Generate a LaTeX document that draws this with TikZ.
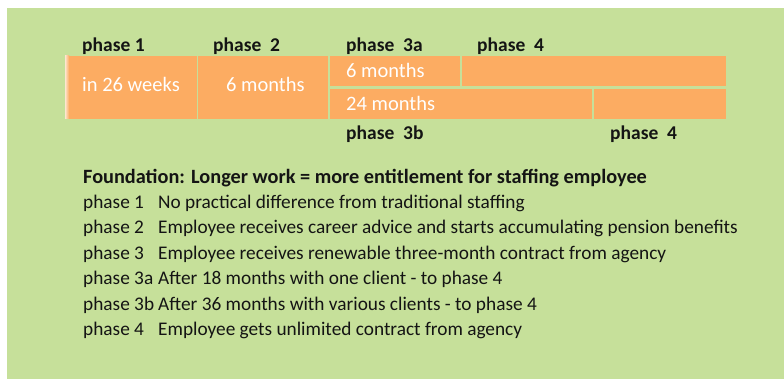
\documentclass[tikz,border=0pt]{standalone}
\usepackage{fontspec}
\setmainfont{Carlito}
\definecolor{bggreen}{RGB}{198,224,154}
\definecolor{barorange}{RGB}{252,172,98}
\definecolor{txtdark}{RGB}{20,20,20}
\begin{document}
\begin{tikzpicture}[x=1pt,y=-1pt,
  bar/.style={fill=barorange,draw=none,inner sep=0pt,outer sep=0pt,anchor=north west},
  head/.style={anchor=base west,inner sep=0pt,font=\fontsize{19.5}{22}\selectfont\bfseries,text=txtdark},
  found/.style={anchor=base west,inner sep=0pt,font=\fontsize{20.3}{22}\selectfont\bfseries,text=txtdark},
  intext/.style={anchor=base west,inner sep=0pt,font=\fontsize{20.5}{22}\selectfont,text=white},
  body/.style={anchor=base west,inner sep=0pt,font=\fontsize{19.3}{22}\selectfont,text=txtdark}]
\useasboundingbox (0,0) rectangle (784,379);
\fill[bggreen] (7,8) rectangle (784,379);
% bars
\node[bar,minimum width=132pt,minimum height=63pt] (p1) at (65,56) {};
\node[bar,minimum width=130pt,minimum height=63pt] (p2) at (198,56) {};
\node[bar,minimum width=130pt,minimum height=30pt] (p3a) at (330,56) {};
\node[bar,minimum width=264pt,minimum height=30pt] (p4a) at (462,56) {};
\node[bar,minimum width=262pt,minimum height=30pt] (p3b) at (330,89) {};
\node[bar,minimum width=132pt,minimum height=30pt] (p4b) at (594,89) {};
\shade[left color=white!70!barorange,right color=barorange] (65,56) rectangle (69,119);
% top labels
\node[head] (l1) at (82,52) {phase 1};
\node[head] (l2) at (213,52) {phase\ \ 2};
\node[head] (l3a) at (346,52) {phase\ \ 3a};
\node[head] (l4a) at (477,52) {phase\ \ 4};
\node[head] (l3b) at (346,140) {phase\ \ 3b};
\node[head] (l4b) at (610,140) {phase\ \ 4};
% bar texts
\node[intext] (t1) at (82,92) {in 26 weeks};
\node[intext] (t2) at (226,92) {6 months};
\node[intext] (t3a) at (346,78) {6 months};
\node[intext] (t3b) at (346,111) {24 months};
% legend
\node[found] (f) at (83,183.3) {Foundation: Longer work = more entitlement for staffing employee};
\node[body] (k1) at (83,208.6) {phase 1};
\node[body] (d1) at (158,208.6) {No practical difference from traditional staffing};
\node[body] (k2) at (83,234) {phase 2};
\node[body] (d2) at (158,234) {Employee receives career advice and starts accumulating pension benefits};
\node[body] (k3) at (83,259.4) {phase 3};
\node[body] (d3) at (158,259.4) {Employee receives renewable three-month contract from agency};
\node[body] (k3a) at (83,284.8) {phase 3a};
\node[body] (d3a) at (158,284.8) {After 18 months with one client - to phase 4};
\node[body] (k3b) at (83,310.2) {phase 3b};
\node[body] (d3b) at (158,310.2) {After 36 months with various clients - to phase 4};
\node[body] (k4) at (83,335.6) {phase 4};
\node[body] (d4) at (158,335.6) {Employee gets unlimited contract from agency};
\end{tikzpicture}
\end{document}
